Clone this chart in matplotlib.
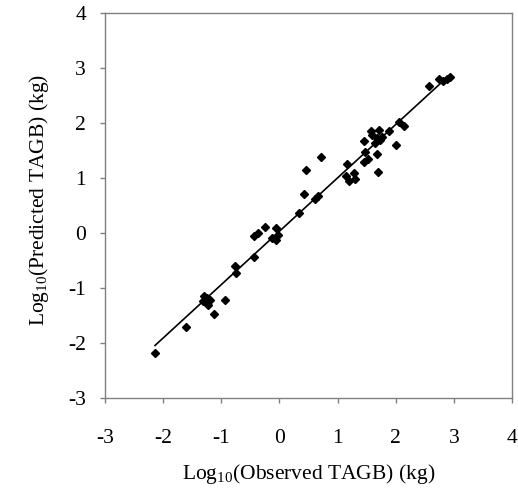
import numpy as np
import matplotlib
matplotlib.use("Agg")
import matplotlib.pyplot as plt

plt.rcParams['font.family'] = ['Liberation Serif', 'DejaVu Serif']
plt.rcParams['mathtext.fontset'] = 'custom'
plt.rcParams['mathtext.rm'] = 'Liberation Serif'
plt.rcParams['mathtext.it'] = 'Liberation Serif:italic'

# Observed vs predicted log10 TAGB
observed = [-2.14, -1.61, -1.30, -1.25, -1.19, -1.31, -1.22, -1.12, -0.93, -0.76, -0.745,
            -0.435, -0.435, -0.36, -0.25, -0.06, -0.03, -0.13, -0.06,
            0.34, 0.425, 0.46, 0.72, 0.615, 0.67,
            1.17, 1.15, 1.29, 1.20, 1.30, 1.45, 1.475, 1.45, 1.515, 1.68, 1.69,
            1.57, 1.59, 1.72, 1.68, 1.73, 1.76, 1.65, 1.88, 2.01, 2.05, 2.15,
            2.58, 2.74, 2.82, 2.89, 2.94]
predicted = [-2.18, -1.70, -1.15, -1.18, -1.21, -1.23, -1.30, -1.47, -1.21, -0.59, -0.72,
             -0.44, -0.06, 0.00, 0.11, 0.09, -0.03, -0.09, -0.12,
             0.36, 0.71, 1.15, 1.38, 0.62, 0.68,
             1.25, 1.04, 1.10, 0.94, 0.98, 1.67, 1.47, 1.30, 1.35, 1.44, 1.11,
             1.85, 1.79, 1.87, 1.73, 1.70, 1.75, 1.64, 1.85, 1.61, 2.03, 1.95,
             2.68, 2.81, 2.76, 2.80, 2.84]

ticks = [-3, -2, -1, 0, 1, 2, 3, 4]
xlabel = r'Log$_{10}$(Observed TAGB) (kg)'
ylabel = r'Log$_{10}$(Predicted TAGB) (kg)'

W, H = 518, 498
fig = plt.figure(figsize=(W/100, H/100), dpi=100)
ax = fig.add_axes([105/W, 1-398/H, (512-105)/W, (398-13.3)/H])

x = np.array(observed)
y = np.array(predicted)
coef = np.polyfit(x, y, 1)
xl = np.array([x.min(), x.max()])
ax.plot(xl, np.polyval(coef, xl), color='black', lw=1.2, zorder=2)
ax.plot(x, y, linestyle='none', marker='D', ms=4.4, color='black', zorder=3)

ax.set_xlim(-3, 4)
ax.set_ylim(-3, 4)
ax.set_xticks(ticks)
ax.set_yticks(ticks)
ax.set_xticklabels([str(t) for t in ticks])
ax.set_yticklabels([str(t) for t in ticks])
for s in ax.spines.values():
    s.set_color('#808080')
    s.set_linewidth(1.0)
ax.tick_params(axis='both', direction='out', length=3.6, width=1, color='#808080',
               labelsize=15.5, labelcolor='black')
ax.tick_params(axis='x', pad=19)
ax.tick_params(axis='y', pad=10)

fig.text(308.5/W, 1-479/H, xlabel, fontsize=15.5, ha='center', va='baseline')
fig.text(44/W, 1-200/H, ylabel, fontsize=15.5, ha='center', va='baseline',
         rotation=90, rotation_mode='anchor')

fig.savefig('out.png', dpi=100)
